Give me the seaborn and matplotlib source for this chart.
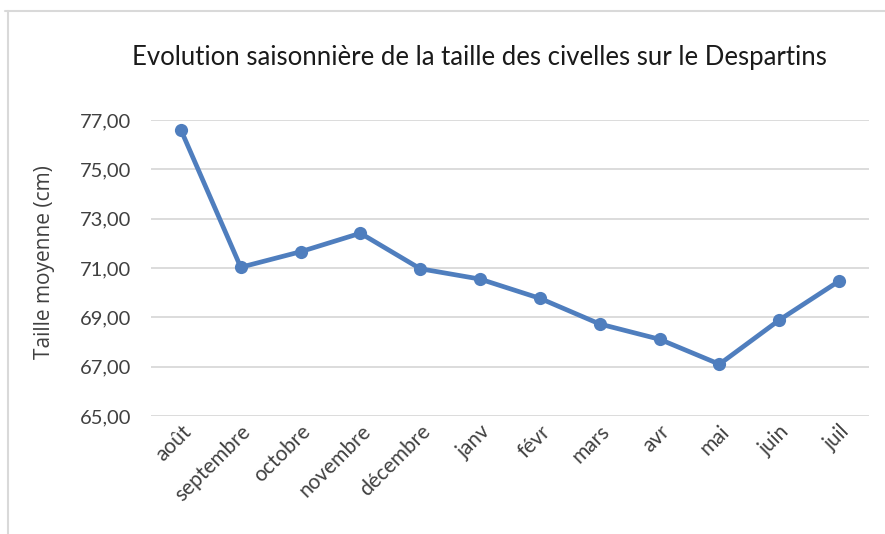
import matplotlib
matplotlib.use("Agg")
import matplotlib.pyplot as plt
import seaborn as sns
import pandas as pd
from matplotlib.lines import Line2D
from matplotlib.ticker import FuncFormatter

months = ["août", "septembre", "octobre", "novembre", "décembre", "janv",
          "févr", "mars", "avr", "mai", "juin", "juil"]
taille = [76.60, 71.03, 71.66, 72.41, 70.97, 70.55,
          69.77, 68.73, 68.11, 67.10, 68.89, 70.47]
yticks = [65, 67, 69, 71, 73, 75, 77]

title = "Evolution saisonnière de la taille des civelles sur le Despartins"
ylabel = "Taille moyenne (cm)"

sns.set_theme(style="white")
plt.rcParams["font.family"] = ["Lato", "DejaVu Sans"]

df = pd.DataFrame({"mois": months, "taille": taille})
df["x"] = range(len(months))

fig = plt.figure(figsize=(8.85, 5.34), dpi=100)
ax = fig.add_axes([151/885, 1 - 416/534, (869-151)/885, (416-120)/534])

blue = "#4F7EBE"
sns.lineplot(data=df, x="x", y="taille", ax=ax, color=blue, linewidth=3.4,
             marker="o", markersize=9.5, markeredgecolor=blue, markeredgewidth=0)

ax.set_xlim(-0.5, len(months) - 0.5)
ax.set_ylim(yticks[0], yticks[-1])
ax.set_yticks(yticks)
ax.yaxis.set_major_formatter(FuncFormatter(lambda v, p: f"{v:.2f}".replace(".", ",")))
ax.set_xticks(df["x"])
ax.set_xticklabels(months, rotation=45, ha="right", rotation_mode="anchor")
ax.grid(axis="y", color="#D9D9D9", linewidth=1.3)
ax.set_axisbelow(True)
for s in ax.spines.values():
    s.set_visible(False)
ax.tick_params(axis="both", length=0, colors="#404040")
ax.tick_params(axis="y", pad=14, labelsize=14.5)
ax.tick_params(axis="x", pad=4, labelsize=15)
ax.set_xlabel("")
ax.set_ylabel(ylabel, fontsize=15, color="#404040", va="center",
              family=["Open Sans", "DejaVu Sans"])
ax.yaxis.set_label_coords((45 - 151) / 718, (416 - 262) / 296)

fig.text(479/885, 1 - 57/534, title, ha="center", va="center", fontsize=18.5, color="#1A1A1A")

# chart border (top and left visible)
fig.add_artist(Line2D([5/885, 1], [1 - 11/534, 1 - 11/534], transform=fig.transFigure,
                      color="#D9D9D9", linewidth=1.5))
fig.add_artist(Line2D([8/885, 8/885], [0, 1 - 11/534], transform=fig.transFigure,
                      color="#D9D9D9", linewidth=1.5))

fig.savefig("out.png", dpi=100)
